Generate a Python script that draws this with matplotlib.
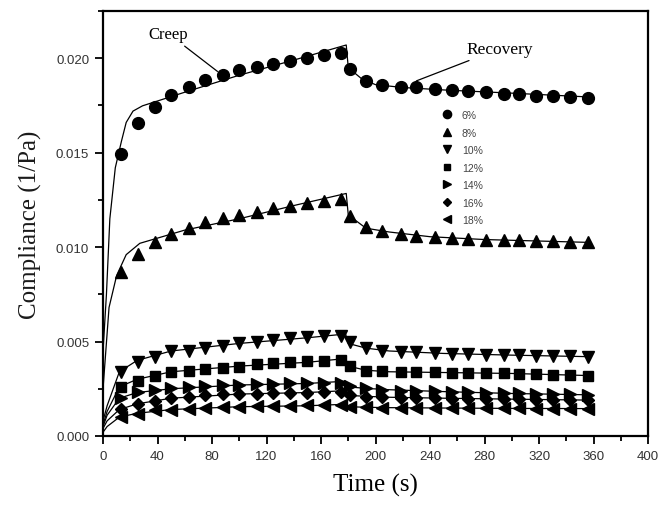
import matplotlib
matplotlib.use("Agg")
import matplotlib.pyplot as plt
from matplotlib.ticker import MultipleLocator, FormatStrFormatter

# sample times (s)
time_creep = [13, 26, 38, 50, 63, 75, 88, 100, 113, 125, 137, 150, 162, 175]
time_recov = [181, 193, 205, 219, 230, 244, 256, 268, 281, 294, 305, 318, 330, 343, 356]

labels = ["6%", "8%", "10%", "12%", "14%", "16%", "18%"]

# measured compliance (1/Pa), creep then recovery
c6 = [0.01492, 0.01656, 0.01744, 0.01806, 0.01848, 0.01884, 0.0191, 0.01937,
      0.01954, 0.01972, 0.01986, 0.02003, 0.02016, 0.0203]
r6 = [0.01945, 0.0188, 0.01857, 0.01848, 0.01845, 0.01835, 0.01832, 0.01825,
      0.01822, 0.01812, 0.0181, 0.018, 0.01798, 0.01797, 0.01792]
c8 = [0.00866, 0.00963, 0.01025, 0.01069, 0.01101, 0.01134, 0.01152, 0.01169,
      0.01187, 0.01205, 0.01219, 0.01231, 0.01245, 0.01254]
r8 = [0.01162, 0.01104, 0.01086, 0.01069, 0.01058, 0.01052, 0.01046, 0.01042,
      0.0104, 0.01037, 0.01035, 0.01032, 0.0103, 0.01029, 0.01027]
c10 = [0.0034, 0.0039, 0.00416, 0.00448, 0.00451, 0.00466, 0.00474, 0.00492,
       0.00496, 0.0051, 0.00517, 0.00522, 0.00531, 0.00531]
r10 = [0.005, 0.00464, 0.00451, 0.00443, 0.00443, 0.00439, 0.00434, 0.00434,
       0.00429, 0.00429, 0.00429, 0.00422, 0.00422, 0.00422, 0.00416]
c12 = [0.00258, 0.00293, 0.00316, 0.00337, 0.00346, 0.00354, 0.0036, 0.00367,
       0.00381, 0.00386, 0.0039, 0.00398, 0.00398, 0.00404]
r12 = [0.00369, 0.00346, 0.00342, 0.0034, 0.0034, 0.00337, 0.00335, 0.00333,
       0.00333, 0.00332, 0.0033, 0.00326, 0.00324, 0.00322, 0.0032]
c14 = [0.002, 0.00235, 0.00245, 0.00255, 0.00258, 0.00265, 0.0027, 0.0027,
       0.00274, 0.00275, 0.00278, 0.00278, 0.0028, 0.0028]
r14 = [0.00262, 0.00252, 0.00245, 0.0024, 0.00238, 0.00236, 0.00234, 0.00232,
       0.0023, 0.00228, 0.00226, 0.00224, 0.00222, 0.0022, 0.00216]
c16 = [0.00143, 0.00169, 0.00187, 0.002, 0.00208, 0.00215, 0.0022, 0.00222,
       0.00224, 0.00226, 0.00228, 0.0023, 0.00232, 0.00234]
r16 = [0.00215, 0.00208, 0.00205, 0.00203, 0.00202, 0.002, 0.00198, 0.00197,
       0.00196, 0.00195, 0.00194, 0.00193, 0.00192, 0.00191, 0.0019]
c18 = [0.001, 0.00116, 0.00135, 0.0014, 0.00145, 0.0015, 0.00153, 0.00155,
       0.00157, 0.00158, 0.0016, 0.00162, 0.00163, 0.00165]
r18 = [0.00155, 0.00152, 0.0015, 0.00149, 0.00148, 0.00148, 0.00147, 0.00147,
       0.00146, 0.00146, 0.00146, 0.00145, 0.00145, 0.00145, 0.00145]

# model fit lines (knots)
fit_t6 = [0, 2.5, 5, 9, 13.5, 17, 22, 29, 60, 100, 140, 178.5,
          180, 190, 200, 220, 250, 300, 356]
fit6 = [0.0045, 0.0075, 0.0115, 0.0142, 0.0156, 0.0166, 0.0172, 0.01748, 0.0182,
        0.0191, 0.0199, 0.0207, 0.0195, 0.0189, 0.0186, 0.01845, 0.01832,
        0.01815, 0.01795]
fit_t8 = [0, 4.4, 10, 17, 27, 60, 100, 140, 178.5, 180, 193, 210, 240, 280, 356]
fit8 = [0.0025, 0.0068, 0.0085, 0.0096, 0.0102, 0.0109, 0.0115, 0.0122, 0.01284,
        0.0117, 0.011, 0.0108, 0.01055, 0.0104, 0.01025]
fit_t_low = [0, 3, 12, 25, 50, 100, 150, 178, 180, 193, 210, 250, 300, 356]
fit10 = [0.0008, 0.0016, 0.0034, 0.004, 0.0045, 0.0049, 0.0052, 0.0054,
         0.0049, 0.00465, 0.0045, 0.00437, 0.00428, 0.0042]
fit12 = [0.0006, 0.0013, 0.0026, 0.003, 0.0034, 0.0037, 0.0039, 0.0041,
         0.0037, 0.00348, 0.0034, 0.00336, 0.00331, 0.0032]
fit14 = [0.0005, 0.0011, 0.002, 0.0023, 0.0025, 0.0027, 0.00278, 0.0029,
         0.0026, 0.00252, 0.00245, 0.00235, 0.00225, 0.00218]
fit16 = [0.0004, 0.0008, 0.0014, 0.0017, 0.002, 0.00222, 0.0023, 0.0024,
         0.00215, 0.0021, 0.00205, 0.002, 0.00195, 0.0019]
fit18 = [0.0002, 0.0005, 0.001, 0.0012, 0.0014, 0.00155, 0.0016, 0.00168,
         0.00155, 0.00152, 0.0015, 0.00148, 0.00146, 0.00145]

series = [
    (c6, r6, fit_t6, fit6, "o", 8.5),
    (c8, r8, fit_t8, fit8, "^", 8.5),
    (c10, r10, fit_t_low, fit10, "v", 8.5),
    (c12, r12, fit_t_low, fit12, "s", 7),
    (c14, r14, fit_t_low, fit14, ">", 8),
    (c16, r16, fit_t_low, fit16, "D", 6.5),
    (c18, r18, fit_t_low, fit18, "<", 8),
]

fig = plt.figure(figsize=(6.63, 5.06), dpi=100)
ax = fig.add_axes([0.1554, 0.1364, 0.822, 0.8399])

handles = []
for (cv, rv, ft, fv, mk, ms), lab in zip(series, labels):
    ax.plot(ft, fv, color="black", lw=0.9, zorder=2)
    h, = ax.plot(time_creep + time_recov, cv + rv, linestyle="none",
                 marker=mk, ms=ms, color="black", zorder=3, label=lab)
    handles.append(h)

ax.set_xlim(0, 400)
ax.set_ylim(0, 0.0225)
ax.xaxis.set_major_locator(MultipleLocator(40))
ax.xaxis.set_minor_locator(MultipleLocator(20))
ax.yaxis.set_major_locator(MultipleLocator(0.005))
ax.yaxis.set_minor_locator(MultipleLocator(0.0025))
ax.yaxis.set_major_formatter(FormatStrFormatter("%.3f"))
ax.tick_params(which="major", direction="out", length=6, width=1.3,
               labelsize=9.5, labelcolor="#333333", pad=4,
               top=False, right=False)
ax.tick_params(which="minor", direction="out", length=3.5, width=1.3,
               top=False, right=False)
for lab in ax.get_xticklabels() + ax.get_yticklabels():
    lab.set_family("Liberation Sans")
for sp in ax.spines.values():
    sp.set_linewidth(1.6)

ax.set_xlabel("Time (s)", family="Liberation Serif", fontsize=18, labelpad=8)
ax.set_ylabel("Compliance (1/Pa)", family="Liberation Serif", fontsize=18,
              labelpad=10, color="#1a1a1a")

ax.annotate("Creep", xy=(84, 0.0193), xytext=(48, 0.0213),
            family="Liberation Serif", fontsize=12, ha="center", va="center",
            arrowprops=dict(arrowstyle="-", color="black", lw=0.9,
                            shrinkA=2, shrinkB=0))
ax.annotate("Recovery", xy=(230, 0.0188), xytext=(291, 0.0205),
            family="Liberation Serif", fontsize=12.5, ha="center", va="center",
            arrowprops=dict(arrowstyle="-", color="black", lw=0.9,
                            shrinkA=2, shrinkB=0))

leg = ax.legend(handles=handles, loc="upper left",
                bbox_to_anchor=(0.622, 0.767), frameon=False,
                fontsize=7.5, markerscale=0.7, handlelength=1.0,
                handletextpad=0.9, labelspacing=0.72, borderpad=0,
                borderaxespad=0)
for t in leg.get_texts():
    t.set_family("Liberation Sans")
    t.set_color("#444444")

fig.savefig("out.png", dpi=100)
